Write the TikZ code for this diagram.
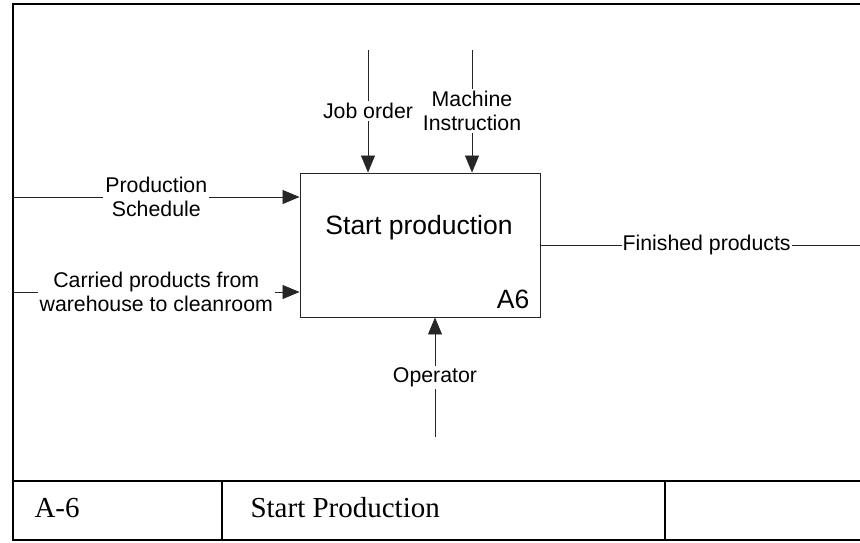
\documentclass[tikz,border=0pt]{standalone}
\usepackage{fontspec}
\setmainfont{Liberation Serif}
\setsansfont{Liberation Sans}
\usetikzlibrary{arrows.meta,positioning,calc}

\tikzset{
    flowlabel/.style={font=\sffamily\fontsize{21.3}{24}\selectfont, fill=white, inner sep=2pt, align=center},
    flowline/.style={draw=black!85, line width=0.8pt},
    flowarrow/.style={flowline, -{Triangle[length=17pt,width=14pt]}},
    frameline/.style={line width=2pt, line cap=rect}
}

\begin{document}
\begin{tikzpicture}[x=1pt, y=-1pt]
    \useasboundingbox (0,0) rectangle (860,542);
    % Frame and footer
    \draw[frameline] (860,4) -- (13,4) -- (13,540) -- (860,540);
    \draw[frameline] (13,481) -- (860,481);
    \foreach \x in {222,665} {
        \draw[line width=1.5pt] (\x,481) -- (\x,540);
    }
    \node[anchor=west, font=\fontsize{29}{32}\selectfont] (fnum) at (31,508) {A-6};
    \node[anchor=west, font=\fontsize{29}{32}\selectfont] (ftitle) at (247,508) {Start Production};
    % Activity box
    \node[draw=black!85, line width=0.9pt, minimum width=240pt, minimum height=144pt] (act) at (420,245) {};
    \node[font=\sffamily\fontsize{26.5}{30}\selectfont] (acttitle) at (419,228) {Start production};
    \node[anchor=south east, font=\sffamily\fontsize{26.5}{30}\selectfont, inner sep=0pt] (actnum) at ($(act.south east)+(-11,-8)$) {A6};
    % Free ends
    \coordinate (psin) at (13,197);
    \coordinate (cpin) at (13,292);
    \coordinate (jobin) at (368,50);
    \coordinate (machin) at (472,50);
    \coordinate (opin) at (435,437);
    \coordinate (fpout) at (860,245);
    % Inputs
    \draw[flowarrow] (psin) -- node[flowlabel] (pslabel) {Production\\Schedule} (psin -| act.west);
    \draw[flowarrow] (cpin) -- node[flowlabel] (cplabel) {Carried products from\\warehouse to cleanroom} (cpin -| act.west);
    % Controls
    \draw[flowarrow] (jobin) -- node[flowlabel] (joblabel) {Job order} (jobin |- act.north);
    \draw[flowarrow] (machin) -- node[flowlabel] (machlabel) {Machine\\Instruction} (machin |- act.north);
    % Mechanism
    \draw[flowarrow] (opin) -- node[flowlabel] (oplabel) {Operator} (opin |- act.south);
    % Output
    \draw[flowline] (fpout -| act.east) -- node[flowlabel, pos=0.52, inner sep=1pt] (fplabel) {Finished products} (fpout);
\end{tikzpicture}
\end{document}
